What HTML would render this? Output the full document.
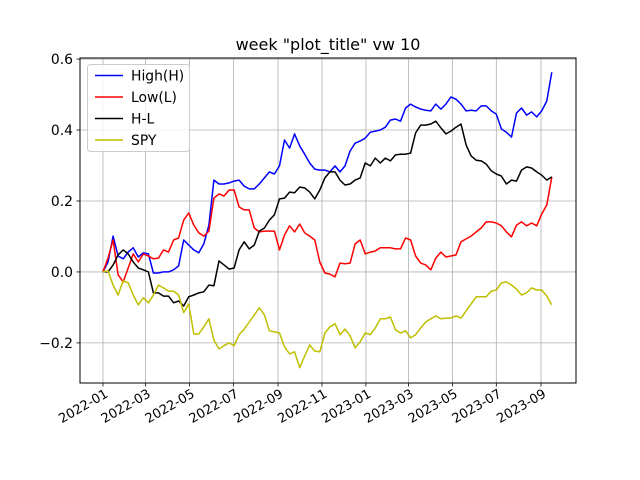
<!DOCTYPE html>
<html><head><meta charset="utf-8"><style>
html,body{margin:0;padding:0;background:#fff;}
svg{display:block;font-family:"DejaVu Sans","Liberation Sans",sans-serif;}
</style></head><body>
<svg id="chart" width="640" height="480">
<rect width="640" height="480" fill="#fff"/>
<text x="328" y="50" font-size="16" text-anchor="middle">week "plot_title" vw 10</text>
<g id="grid"></g>
<g id="series"></g>
<rect x="80" y="58" width="496" height="325" fill="none" stroke="#000" stroke-width="1"/>
<g id="ticks"></g>
<g id="legend"></g>
</svg>
<script>
const highVals=[0,.028,.101,.045,.037,.056,.068,.042,.054,.051,-.003,-.003,0,0,.006,.017,.090,.076,.062,.054,.079,.132,.259,.248,.248,.251,.256,.259,.242,.234,.234,.248,.265,.282,.276,.299,.372,.349,.389,.355,.332,.307,.290,.287,.287,.282,.299,.282,.299,.341,.363,.369,.377,.394,.397,.400,.408,.428,.431,.425,.462,.473,.465,.459,.456,.454,.473,.459,.473,.493,.487,.473,.454,.456,.454,.468,.468,.454,.445,.403,.394,.380,.448,.462,.442,.451,.437,.454,.482,.563];
const lowVals=[0,.039,.090,-.008,-.028,.011,.051,.028,.051,.045,.037,.039,.062,.056,.090,.096,.146,.166,.132,.110,.101,.115,.208,.220,.214,.231,.231,.183,.175,.175,.124,.113,.115,.115,.115,.062,.104,.130,.113,.135,.110,.101,.090,.028,-.003,-.006,-.014,.025,.023,.025,.079,.090,.051,.056,.059,.068,.068,.068,.065,.065,.096,.090,.045,.025,.020,.006,.039,.056,.042,.045,.048,.085,.093,.101,.113,.124,.141,.141,.138,.130,.113,.099,.132,.141,.130,.138,.130,.163,.189,.268];
const hlVals=[0,0,.020,.048,.062,.051,.028,.011,.006,0,-.059,-.059,-.068,-.068,-.087,-.082,-.096,-.070,-.065,-.059,-.056,-.037,-.039,.031,.020,.008,.011,.062,.085,.065,.076,.115,.124,.146,.161,.206,.208,.225,.223,.239,.237,.225,.206,.231,.265,.282,.282,.259,.245,.248,.259,.265,.307,.299,.321,.307,.321,.313,.330,.332,.332,.335,.392,.414,.414,.417,.425,.406,.389,.397,.408,.417,.358,.327,.315,.313,.304,.285,.276,.270,.248,.259,.256,.287,.296,.293,.282,.273,.259,.268];
const spyVals=[0,.003,-.037,-.065,-.025,-.031,-.065,-.093,-.073,-.087,-.065,-.037,-.045,-.054,-.054,-.065,-.115,-.090,-.175,-.175,-.155,-.132,-.192,-.217,-.208,-.200,-.208,-.177,-.161,-.141,-.121,-.101,-.121,-.166,-.169,-.172,-.211,-.231,-.225,-.270,-.237,-.206,-.223,-.225,-.172,-.155,-.146,-.177,-.161,-.180,-.214,-.197,-.172,-.177,-.158,-.132,-.132,-.127,-.163,-.172,-.166,-.186,-.177,-.158,-.141,-.132,-.124,-.132,-.130,-.130,-.124,-.130,-.110,-.090,-.070,-.070,-.070,-.054,-.051,-.031,-.028,-.037,-.048,-.065,-.059,-.045,-.051,-.051,-.068,-.093];
const seriesNames=["High(H)","Low(L)","H-L","SPY"];
const seriesColors=["#0000ff","#ff0000","#000000","#bfbf00"];
const yTicks=[-0.2,0.0,0.2,0.4,0.6];
const yTickLabels=["\u22120.2","0.0","0.2","0.4","0.6"];
const xTickLabels=["2022-01","2022-03","2022-05","2022-07","2022-09","2022-11","2023-01","2023-03","2023-05","2023-07","2023-09"];

const NS="http://www.w3.org/2000/svg";
const L=80,R=576,T=58,B=383;
const day0=Date.UTC(2022,0,1), DAY=86400000;
const xMin=-31.9, xMax=656.6, yMin=-0.313, yMax=0.603;
const xs=d=>L+(d-xMin)/(xMax-xMin)*(R-L);
const ys=v=>B-(v-yMin)/(yMax-yMin)*(B-T);
function mk(tag,attrs,parent){const e=document.createElementNS(NS,tag);for(const k in attrs)e.setAttribute(k,attrs[k]);parent.appendChild(e);return e;}
const grid=document.getElementById('grid'),ticks=document.getElementById('ticks'),ser=document.getElementById('series'),leg=document.getElementById('legend');

xTickLabels.forEach(lbl=>{
  const [yy,mm]=lbl.split('-').map(Number);
  const d=(Date.UTC(yy,mm-1,1)-day0)/DAY;const x=xs(d);
  const g=mk('line',{x1:x,x2:x,y1:T,y2:B,stroke:'#b0b0b0','stroke-width':0.8},grid);
  
  
  mk('line',{x1:x,x2:x,y1:B,y2:B+3.5,stroke:'#000','stroke-width':0.8},ticks);
  const t=mk('text',{x:x+3,y:B+14,'font-size':13,'text-anchor':'end',transform:`rotate(-30 ${x+3} ${B+8})`},ticks);
  t.textContent=lbl;
  
  
});
yTicks.forEach((v,i)=>{
  const y=ys(v);
  const g=mk('line',{x1:L,x2:R,y1:y,y2:y,stroke:'#b0b0b0','stroke-width':0.8},grid);
  
  
  mk('line',{x1:L-3.5,x2:L,y1:y,y2:y,stroke:'#000','stroke-width':0.8},ticks);
  const t=mk('text',{x:L-7,y:y+5,'font-size':13.9,'text-anchor':'end'},ticks);
  t.textContent=yTickLabels[i];
  
  
});
[highVals,lowVals,hlVals,spyVals].forEach((vals,si)=>{
  const pts=vals.map((v,i)=>xs(i*7).toFixed(1)+','+ys(v).toFixed(1)).join(' ');
  const p=mk('polyline',{points:pts,fill:'none',stroke:seriesColors[si],'stroke-width':1.5,'stroke-linejoin':'round'},ser);
  
  
});
const lb=mk('rect',{x:87.5,y:64.5,width:102,height:87,rx:3,fill:'#fff','fill-opacity':0.8,stroke:'#ccc'},leg);
seriesNames.forEach((n,i)=>{
  const y=75.5+i*21.5;
  const ln=mk('line',{x1:95,x2:123,y1:y,y2:y,stroke:seriesColors[i],'stroke-width':1.5},leg);
  
  
  const t=mk('text',{x:131,y:y+5,'font-size':13.9},leg);
  t.textContent=n;
  
  
});
</script>
</body></html>
